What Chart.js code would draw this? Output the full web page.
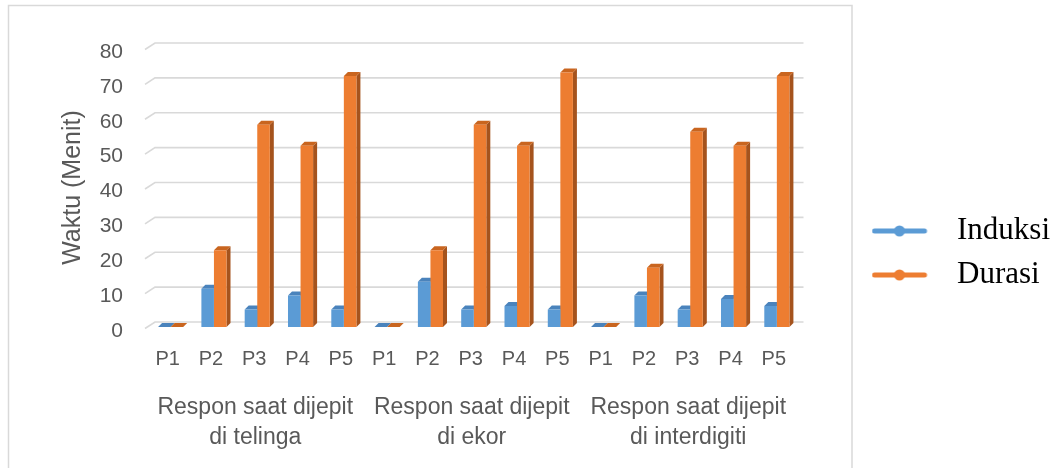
<!DOCTYPE html>
<html>
<head>
<meta charset="utf-8">
<script src="https://cdn.jsdelivr.net/npm/chart.js@4"></script>
<style>
  html, body { margin: 0; padding: 0; background: #fff; }
  #wrap { width: 1060px; height: 468px; position: relative; }
</style>
</head>
<body>
<div id="wrap"><canvas id="c" width="1060" height="468"></canvas></div>
<script>
// ---- data ----
const categories = ['P1','P2','P3','P4','P5','P1','P2','P3','P4','P5','P1','P2','P3','P4','P5'];
const groupLabels = [
  ['Respon saat dijepit', 'di telinga'],
  ['Respon saat dijepit', 'di ekor'],
  ['Respon saat dijepit', 'di interdigiti']
];
const induksi = [0, 11, 5, 9, 5, 0, 13, 5, 6, 5, 0, 9, 5, 8, 6];
const durasi  = [0, 22, 58, 52, 72, 0, 22, 58, 52, 73, 0, 17, 56, 52, 72];
const seriesNames = ['Induksi', 'Durasi'];
const yMin = 0, yMax = 80, yStep = 10;
const yTitle = 'Waktu (Menit)';

// ---- styles ----
const faceColors = [
  { front: '#5B9BD5', side: '#3F6F9F', top: '#4A83BC' },
  { front: '#ED7D31', side: '#A5531D', top: '#C9651F' }
];
const DX = 4, DY = 4;

function legendMarker(color) {
  const c = document.createElement('canvas');
  c.width = 70; c.height = 14;
  const g = c.getContext('2d');
  g.strokeStyle = color; g.lineWidth = 5; g.lineCap = 'round';
  g.beginPath(); g.moveTo(3, 7); g.lineTo(53, 7); g.stroke();
  g.fillStyle = color;
  g.beginPath(); g.arc(28, 7, 5.5, 0, Math.PI * 2); g.fill();
  return c;
}
const markers = [legendMarker(faceColors[0].front), legendMarker(faceColors[1].front)];

const frame = {
  id: 'frame',
  beforeDraw(chart) {
    const ctx = chart.ctx;
    ctx.save();
    ctx.fillStyle = '#fff';
    ctx.fillRect(0, 0, chart.width, chart.height);
    ctx.strokeStyle = '#d9d9d9';
    ctx.lineWidth = 1.5;
    ctx.strokeRect(8.5, 5.5, 843.5, 520);
    ctx.restore();
  },
  beforeDatasetsDraw(chart) {
    const ctx = chart.ctx;
    const ys = chart.scales.y;
    const area = chart.chartArea;
    ctx.save();
    ctx.strokeStyle = '#d9d9d9';
    ctx.lineWidth = 1.6;
    ys.ticks.forEach(t => {
      const yf = ys.getPixelForValue(t.value);
      ctx.beginPath();
      ctx.moveTo(area.left - 4, yf + 1.5);
      ctx.lineTo(area.left + 6, yf - 5);
      ctx.lineTo(area.right + 5, yf - 5);
      ctx.stroke();
    });
    chart.data.datasets.forEach((ds, di) => {
      const meta = chart.getDatasetMeta(di);
      const col = faceColors[di];
      meta.data.forEach(bar => {
        const { x, y, base, width } = bar.getProps(['x', 'y', 'base', 'width'], true);
        const l = x - width / 2, r = x + width / 2;
        ctx.fillStyle = col.side;
        ctx.beginPath();
        ctx.moveTo(r, y); ctx.lineTo(r + DX, y - DY);
        ctx.lineTo(r + DX, base - DY); ctx.lineTo(r, base);
        ctx.closePath(); ctx.fill();
        ctx.fillStyle = col.top;
        ctx.beginPath();
        ctx.moveTo(l, y); ctx.lineTo(r, y);
        ctx.lineTo(r + DX, y - DY); ctx.lineTo(l + DX, y - DY);
        ctx.closePath(); ctx.fill();
      });
    });
    ctx.restore();
  }
};

Chart.defaults.font.family = "'Liberation Sans', Arial, sans-serif";
Chart.defaults.color = '#595959';

new Chart(document.getElementById('c'), {
  type: 'bar',
  data: {
    labels: categories,
    datasets: [
      { label: seriesNames[0], data: induksi, backgroundColor: faceColors[0].front,
        borderWidth: 0, xAxisID: 'x', yAxisID: 'y',
        categoryPercentage: 0.58, barPercentage: 1.0 },
      { label: seriesNames[1], data: durasi, backgroundColor: faceColors[1].front,
        borderWidth: 0, xAxisID: 'x', yAxisID: 'y',
        categoryPercentage: 0.58, barPercentage: 1.0 }
    ]
  },
  options: {
    responsive: false,
    devicePixelRatio: 1,
    animation: false,
    layout: { padding: { top: 48, bottom: 10, left: 0, right: 0 } },
    plugins: {
      tooltip: { enabled: false },
      legend: {
        position: 'right',
        align: 'center',
        maxWidth: 400,
        labels: {
          usePointStyle: true,
          pointStyleWidth: 70,
          padding: 13,
          color: '#000',
          font: { family: "'Liberation Serif', 'Times New Roman', serif", size: 31 },
          generateLabels(chart) {
            const items = Chart.defaults.plugins.legend.labels.generateLabels(chart);
            items.sort((a, b) => a.datasetIndex - b.datasetIndex);
            items.forEach(it => { it.pointStyle = markers[it.datasetIndex]; it.lineWidth = 0; });
            return items;
          }
        }
      }
    },
    scales: {
      x: {
        type: 'category',
        position: 'bottom',
        grid: { display: false, drawTicks: false },
        border: { display: false },
        ticks: { padding: 20, labelOffset: -3, maxRotation: 0, autoSkip: false,
                 font: { size: 20 }, color: '#595959' },
        afterFit(s) { s.height = 46; }
      },
      x2: {
        type: 'category',
        position: 'bottom',
        weight: 1,
        labels: groupLabels,
        offset: true,
        grid: { display: false, drawTicks: false },
        border: { display: false },
        ticks: { padding: 20, labelOffset: -2, maxRotation: 0, autoSkip: false,
                 font: { size: 23, lineHeight: 1.3 }, color: '#595959' },
        afterFit(s) { s.height = 85; }
      },
      y: {
        type: 'linear',
        position: 'left',
        min: yMin, max: yMax,
        grid: { display: false, drawTicks: false },
        border: { display: false },
        ticks: { stepSize: yStep, padding: 26, labelOffset: 4, font: { size: 21 }, color: '#595959' },
        title: { display: true, text: yTitle, font: { size: 25 }, color: '#595959',
                 padding: { top: 58, bottom: 0 } },
        afterFit(s) { s.width = 149; }
      },
      yR: {
        type: 'linear',
        position: 'right',
        display: true,
        grid: { display: false, drawTicks: false },
        border: { display: false },
        ticks: { display: false },
        afterFit(s) { s.width = 60; }
      }
    }
  },
  plugins: [frame]
});
</script>
</body>
</html>
